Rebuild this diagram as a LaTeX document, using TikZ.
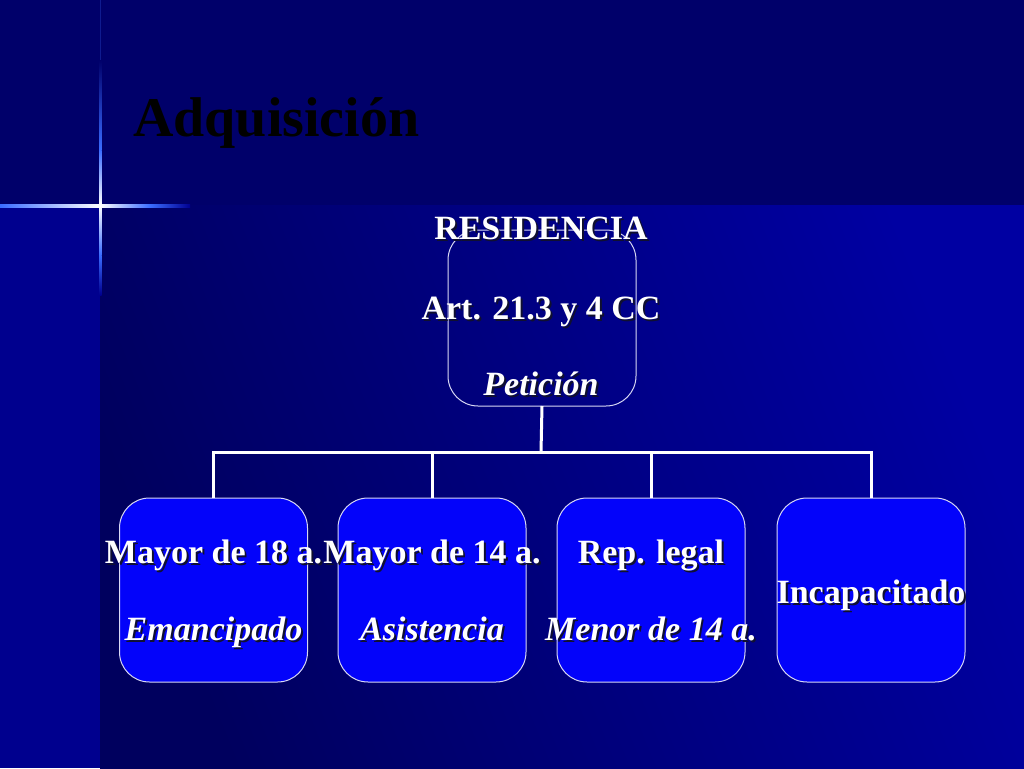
\documentclass[tikz,border=0pt]{standalone}
\usepackage{fontspec}
\setmainfont{Liberation Serif}
\definecolor{topband}{HTML}{00006A}
\definecolor{leftstrip}{HTML}{00008E}
\definecolor{maindark}{HTML}{00005E}
\definecolor{mainlight}{HTML}{0000A2}
\definecolor{boxfill}{HTML}{0303FA}
\definecolor{boxline}{HTML}{D8D8F4}
\definecolor{shadowc}{HTML}{101030}
\definecolor{flare}{HTML}{3A6CFF}
\newcommand{\shd}[1]{\leavevmode\rlap{\hspace{2pt}\raisebox{-2pt}{\color{shadowc}#1}}#1}
\tikzset{
  lbl/.style={text=white, inner sep=0pt, outer sep=0pt, anchor=base,
    font=\fontsize{34}{40}\selectfont\bfseries},
  lbli/.style={lbl, font=\fontsize{34}{40}\selectfont\bfseries\itshape},
  box/.style={draw=boxline, line width=1pt, rounded corners=30pt,
    minimum width=188pt, minimum height=184pt, inner sep=0pt, outer sep=0pt},
  lowbox/.style={box, fill=boxfill},
  wire/.style={draw=white, line width=3pt},
}
\begin{document}
\begin{tikzpicture}[x=1pt,y=-1pt]
\useasboundingbox (0,0) rectangle (1024,768);
% background
\fill[topband] (0,0) rectangle (1024,768);
\fill[leftstrip] (0,205) rectangle (100,768);
\shade[left color=maindark, right color=mainlight, shading angle=112] (100,205) rectangle (1024,768);
% flare
\fill[flare!25!topband] (99.5,0) rectangle (101,60);
\shade[top color=topband, bottom color=flare] (99,60) rectangle (101.5,150);
\shade[top color=flare, bottom color=white] (99,150) rectangle (101.5,205);
\shade[top color=white, bottom color=flare] (99,205) rectangle (101.5,255);
\shade[top color=flare, bottom color=leftstrip] (99,255) rectangle (101.5,295);
\shade[left color=flare, right color=white] (0,204) rectangle (100,207);
\shade[left color=white, right color=flare] (100,204) rectangle (150,207);
\shade[left color=flare, right color=mainlight!70!topband] (150,204) rectangle (190,207);
% title
\node[anchor=base west, inner sep=0pt, text=black, font=\fontsize{56}{60}\selectfont\bfseries] (title) at (133,136) {Adquisición};
% top box
\node[box, minimum height=176pt] (top) at (542,318) {};
\node[lbl] (t0a) at (541,239) {\shd{RESIDENCIA}};
\node[lbl] (t0b) at (541,319) {\shd{Art. 21.3 y 4 CC}};
\node[lbli] (t0c) at (541,395) {\shd{Petición}};
% lower boxes
\node[lowbox] (b1) at (213.5,590) {};
\node[lowbox] (b2) at (432,590) {};
\node[lowbox] (b3) at (651,590) {};
\node[lowbox] (b4) at (871,590) {};
% connectors
\coordinate (bus) at (541,452);
\draw[wire] (top.south) -- (bus);
\draw[wire] (b1.north) -- (b1.north |- bus) -- (b4.north |- bus) -- (b4.north);
\draw[wire] (b2.north) -- (b2.north |- bus);
\draw[wire] (b3.north) -- (b3.north |- bus);
% texts
\node[lbl] (t1a) at (213.5,563) {\shd{Mayor de 18 a.}};
\node[lbli] (t1b) at (213.5,640) {\shd{Emancipado}};
\node[lbl] (t2a) at (432,563) {\shd{Mayor de 14 a.}};
\node[lbli] (t2b) at (432,640) {\shd{Asistencia}};
\node[lbl] (t3a) at (651,563) {\shd{Rep. legal}};
\node[lbli] (t3b) at (651,640) {\shd{Menor de 14 a.}};
\node[lbl] (t4a) at (871,603) {\shd{Incapacitado}};
\end{tikzpicture}
\end{document}
